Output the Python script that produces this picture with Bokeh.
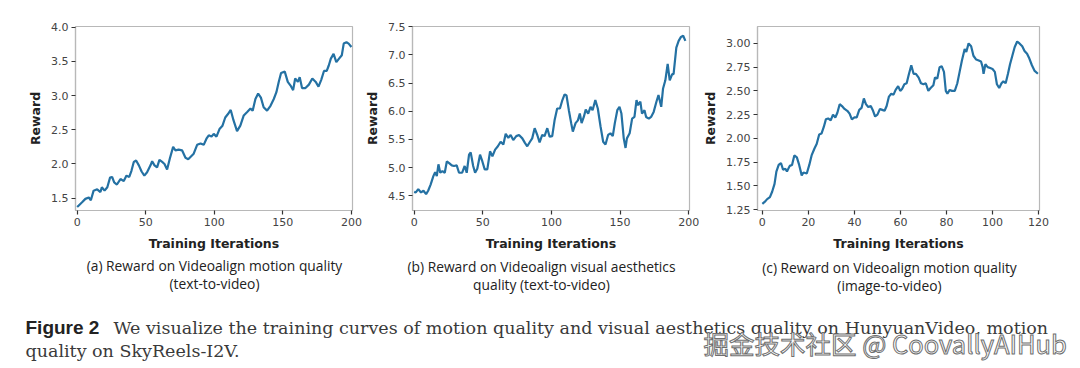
from bokeh.plotting import figure
from bokeh.layouts import row, column
from bokeh.models import Range1d, FixedTicker, PrintfTickFormatter
from bokeh.core.properties import value
from bokeh.embed import file_html
from bokeh.resources import INLINE

# ---------------- data ----------------
a_x = [0,1,3.6,6,8.5,10,12,14.6,17,18,20,22,24,25.5,27,29,31.6,34,36,38,39.6,41.3,43,45,47,49,51,53.5,54.7,56.4,58.3,60,62,63.7,65.6,67.6,70,71.7,74,76.5,79,81,83,85,87.5,90,92.3,94.3,96,98,99.6,101.6,103.8,106,108,110,112,114,116.6,119,121.5,124,126.4,128,130,132,134,136,138.5,141,143.4,145.3,147,148.7,151.4,153.6,155.5,157.5,159,161,162.3,164,166.5,169,171.5,174,176,178,180,182,183.5,185,187,189,191,193,194.4,196.4,198,200]
a_y = [1.37,1.39,1.44,1.49,1.51,1.47,1.61,1.63,1.59,1.66,1.61,1.66,1.80,1.81,1.73,1.70,1.78,1.75,1.83,1.81,1.90,2.03,2.05,1.98,1.89,1.83,1.88,1.98,2.04,1.98,1.95,2.06,2.03,2.00,1.92,2.08,2.25,2.20,2.21,2.20,2.09,2.07,2.11,2.15,2.28,2.30,2.28,2.37,2.42,2.40,2.44,2.40,2.51,2.56,2.68,2.73,2.79,2.64,2.48,2.56,2.71,2.76,2.81,2.78,2.95,3.03,2.97,2.83,2.78,2.85,2.95,3.05,3.20,3.33,3.35,3.20,3.15,3.08,3.25,3.20,3.27,3.11,3.11,3.16,3.25,3.20,3.13,3.23,3.36,3.36,3.44,3.54,3.61,3.49,3.54,3.59,3.76,3.78,3.76,3.71]

b_x = [0,1.2,3,5,6.8,8.7,10.2,12,14,15.3,16.5,17.7,19,20.6,22.3,23.8,25.5,27.4,29,31,32.7,35,36.8,38.3,40,41.2,43,44.4,46,48,49.7,51.4,53.3,55.3,57,59,61,63,65,66.7,68.6,70.3,72.2,74.4,76.4,78.8,80.7,82.4,84.4,86,87.8,89.7,91.4,93.3,95,97,98.7,100.6,102.3,104.2,106.2,108,109.6,111,112.7,114.4,115.6,117.6,119.3,120.7,122,123.6,125,126.8,128.5,130,132,133.8,135.8,137.7,139.4,141.3,143,144.7,146.2,148,149.6,151,152.7,154,155,157,158.8,160.5,162,163,164.8,166,167.8,169,171,172.6,174.5,176.5,178,180,181.3,183,184.7,186.2,188,189,191,192.7,194.4,196,197.6]
b_y = [4.57,4.56,4.62,4.56,4.59,4.53,4.59,4.70,4.85,4.92,4.85,5.06,4.91,4.94,4.91,5.11,5.08,5.04,5.03,5.04,4.91,4.91,5.03,4.91,5.23,5.27,5.03,4.91,4.98,5.23,5.11,4.97,4.97,5.29,5.20,5.32,5.38,5.46,5.41,5.60,5.53,5.58,5.49,5.56,5.58,5.52,5.44,5.38,5.46,5.52,5.70,5.58,5.45,5.58,5.56,5.70,5.55,5.56,5.84,6.05,6.05,6.20,6.30,6.28,6.02,5.79,5.64,5.79,5.84,5.96,5.79,5.90,6.03,5.96,6.08,6.02,6.20,6.05,5.73,5.46,5.41,5.58,5.61,5.56,5.79,6.02,6.08,5.96,5.52,5.35,5.52,5.61,5.87,5.90,6.20,6.11,6.17,5.96,6.02,5.90,5.87,5.90,5.99,6.17,6.29,6.08,6.40,6.55,6.84,6.55,6.66,6.66,7.13,7.25,7.32,7.34,7.25]

c_x = [0,1,2.1,3.3,4.3,5.3,6.1,7.1,8.1,9,10,10.7,11.9,12.9,13.9,15,16,17.1,17.9,19.3,20.4,21.4,22.6,23.6,24.7,25.7,26.7,27.6,28.6,29.7,30.7,31.7,32.6,33.6,34.6,35.7,36.9,37.9,38.9,40,41,42.1,43.1,44.1,45,46,47.1,48.1,49,50,51.1,52.1,53.1,54,55,56,57,57.9,59,59.9,60.7,61.7,62.7,63.6,64.7,65.7,66.7,67.9,68.9,70,71,72.1,73.1,74.3,75,76,77,77.9,78.9,79.7,80.4,81.4,82.4,83.6,84.7,85.7,86.7,87.9,88.6,89.6,90.7,91.7,92.9,94,95,95.7,96.1,96.9,97.9,99,100,101,101.9,102.9,103.9,104.7,105.7,106.7,107.6,108.6,109.6,110.7,111.7,112.9,113.9,115,116,117.1,118.3,119.7]
c_y = [1.31,1.33,1.36,1.38,1.44,1.52,1.65,1.72,1.74,1.67,1.68,1.65,1.71,1.72,1.82,1.80,1.72,1.61,1.64,1.63,1.72,1.82,1.89,1.94,2.04,2.05,2.12,2.20,2.21,2.19,2.25,2.22,2.27,2.36,2.34,2.31,2.29,2.26,2.20,2.22,2.22,2.30,2.32,2.42,2.36,2.33,2.34,2.29,2.23,2.25,2.31,2.30,2.29,2.34,2.44,2.47,2.46,2.51,2.55,2.50,2.52,2.57,2.58,2.67,2.77,2.68,2.68,2.64,2.58,2.57,2.58,2.50,2.53,2.56,2.64,2.63,2.75,2.76,2.70,2.50,2.47,2.51,2.50,2.50,2.58,2.70,2.82,2.94,2.91,3.00,2.97,2.87,2.83,2.82,2.81,2.75,2.68,2.78,2.75,2.74,2.73,2.70,2.57,2.53,2.58,2.60,2.58,2.68,2.78,2.87,2.96,3.02,3.00,2.97,2.92,2.89,2.84,2.77,2.71,2.68]

a_xticks = [0, 50, 100, 150, 200]
a_yticks = [1.5, 2.0, 2.5, 3.0, 3.5, 4.0]
b_xticks = [0, 50, 100, 150, 200]
b_yticks = [4.5, 5.0, 5.5, 6.0, 6.5, 7.0, 7.5]
c_xticks = [0, 20, 40, 60, 80, 100, 120]
c_yticks = [1.25, 1.50, 1.75, 2.00, 2.25, 2.50, 2.75, 3.00]

x_label = "Training Iterations"
y_label = "Reward"
captions = [
    ("(a) Reward on Videoalign motion quality", "(text-to-video)"),
    ("(b) Reward on Videoalign visual aesthetics", "quality (text-to-video)"),
    ("(c) Reward on Videoalign motion quality", "(image-to-video)"),
]
fig_label = "Figure 2"
fig_text1 = "We visualize the training curves of motion quality and visual aesthetics quality on HunyuanVideo, motion"
fig_text2 = "quality on SkyReels-I2V."
watermark = "掘金技术社区 @ CoovallyAIHub"

LINE = "#2471a3"
PANEL_H = 254


def panel(xs, ys, xr, yr, xt, yt, fmt, width, bl, br, bt, bb):
    p = figure(width=width, height=PANEL_H, x_range=Range1d(*xr), y_range=Range1d(*yr),
               output_backend="svg", toolbar_location=None,
               min_border_left=bl, min_border_right=br, min_border_top=bt, min_border_bottom=bb,
               background_fill_color="white", border_fill_color="white")
    p.xgrid.visible = False
    p.ygrid.visible = False
    p.outline_line_color = "#b8b8b8"
    p.outline_line_width = 1.2
    for ax in (p.xaxis[0], p.yaxis[0]):
        ax.axis_line_color = "#b8b8b8"
        ax.axis_line_width = 1.2
        ax.major_tick_line_color = "#333333"
        ax.major_tick_line_width = 1.2
        ax.major_tick_out = 4
        ax.major_tick_in = 0
        ax.minor_tick_line_color = None
        ax.major_label_text_font = "DejaVu Sans"
        ax.major_label_text_font_size = "11px"
        ax.major_label_text_color = "#444444"
        ax.major_label_standoff = 3
        ax.axis_label_text_font = "DejaVu Sans"
        ax.axis_label_text_font_style = "bold"
        ax.axis_label_text_font_size = "12.5px"
        ax.axis_label_text_color = "#222222"
    p.xaxis[0].ticker = FixedTicker(ticks=xt)
    p.yaxis[0].ticker = FixedTicker(ticks=yt)
    p.yaxis[0].formatter = PrintfTickFormatter(format=fmt)
    p.xaxis[0].axis_label = x_label
    p.yaxis[0].axis_label = y_label
    p.xaxis[0].axis_label_standoff = 7
    p.yaxis[0].axis_label_standoff = 5
    p.line(xs, ys, line_color=LINE, line_width=2.2)
    return p


pa = panel(a_x, a_y, (-1.2, 200.8), (1.32, 4.01), a_xticks, a_yticks, "%.1f", 362, 75, 10, 26, 44)
pb = panel(b_x, b_y, (-1.2, 200.6), (4.24, 7.505), b_xticks, b_yticks, "%.1f", 338, 50, 11, 25, 44)
pc = panel(c_x, c_y, (-2.1, 120.4), (1.24, 3.178), c_xticks, c_yticks, "%.2f", 376, 53, 37, 23, 41)

# caption strip (pixel coordinates, y downward)
CAP_W, CAP_H = 1076, 110
cap = figure(width=CAP_W, height=CAP_H, x_range=Range1d(0, CAP_W), y_range=Range1d(CAP_H, 0),
             output_backend="svg", toolbar_location=None, min_border=0,
             background_fill_color="white", border_fill_color="white")
cap.axis.visible = False
cap.grid.visible = False
cap.outline_line_color = None

cap_font = value("Open Sans")
cap_pos = [(214, 11, 29), (541, 12, 30), (889, 13, 31)]
for (l1, l2), (cx, y1, y2) in zip(captions, cap_pos):
    cap.text(x=[cx, cx], y=[y1, y2], text=[l1, l2], text_font=cap_font, text_font_size="13.8px",
             text_color="#222222", text_align="center", text_baseline="middle")

cap.text(x=[25], y=[73], text=[fig_label], text_font=value("Liberation Sans"), text_font_style="bold",
         text_font_size="19px", text_color="#222222", text_align="left", text_baseline="middle")
cap.text(x=[113, 25], y=[73, 96], text=[fig_text1, fig_text2], text_font=value("DejaVu Serif"),
         text_font_size="17.5px", text_color="#3a3a3a", text_align="left", text_baseline="middle")
cap.text(x=[703], y=[88], text=[watermark], text_font=value("Noto Sans CJK SC"),
         text_font_size="25.5px", text_color="white", outline_color="#6f6f6f",
         text_align="left", text_baseline="middle")

layout = column(row(pa, pb, pc, spacing=0), cap, spacing=0)

open("out.html", "w").write(file_html(layout, INLINE))
